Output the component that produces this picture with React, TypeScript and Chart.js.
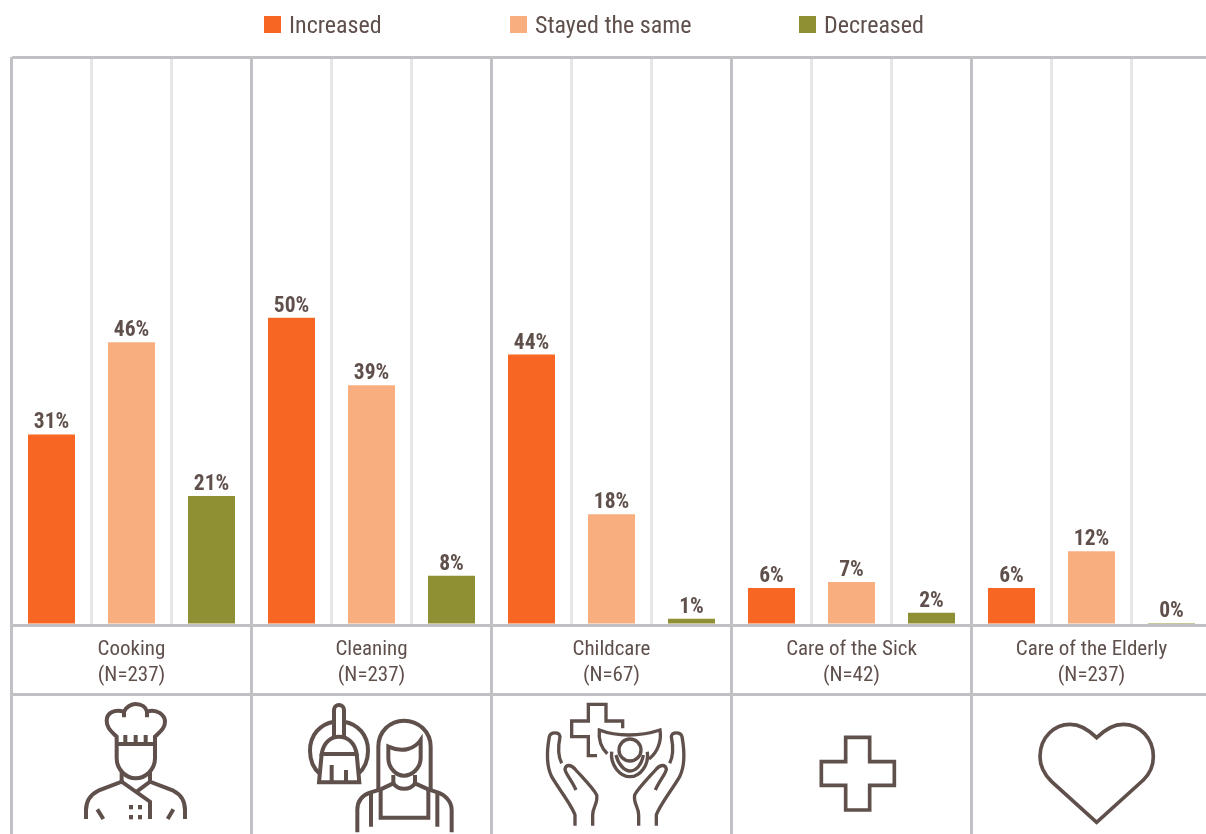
import React, { useEffect, useRef } from "react";
import { Chart, registerables } from "chart.js";

Chart.register(...registerables);

const groups = [
  ["Cooking", "(N=237)"],
  ["Cleaning", "(N=237)"],
  ["Childcare", "(N=67)"],
  ["Care of the Sick", "(N=42)"],
  ["Care of the Elderly", "(N=237)"],
];
const increased = [31, 50, 44, 6, 6];
const stayedSame = [46, 39, 18, 7, 12];
const decreased = [21, 8, 1, 2, 0];
const subCells = ["a1", "a2", "a3", "b1", "b2", "b3", "c1", "c2", "c3", "d1", "d2", "d3", "e1", "e2", "e3"];
const seriesNames = ["Increased", "Stayed the same", "Decreased"];
const seriesColors = ["#f76723", "#f9ae80", "#8f8f33"];
const legendX = [264, 510, 799];

const INK = "#5f504c";
const RULE = "#c1c1c5";
const FAMILY = "Roboto, 'Liberation Sans Narrow', sans-serif";

function line(ctx: CanvasRenderingContext2D, d: string, w = 12) {
  ctx.lineWidth = w;
  ctx.stroke(new Path2D(d));
}

function beginIcon(ctx: CanvasRenderingContext2D, x: number, y: number) {
  ctx.save();
  ctx.strokeStyle = INK;
  ctx.fillStyle = INK;
  ctx.lineJoin = "miter";
  ctx.lineCap = "butt";
  ctx.translate(x, y);
  ctx.scale(1 / 3, 1 / 3);
}

function drawIcons(ctx: CanvasRenderingContext2D) {
  beginIcon(ctx, 0, 600);
  // chef
  line(ctx, "M350 432 V410 C335 395 320 385 320 362 C320 340 342 326 372 335 C378 320 395 312 407 312 C425 312 438 322 441 335 C470 325 495 345 495 365 C495 385 480 395 465 410 V432");
  line(ctx, "M372 335 V352 M441 335 V352 M350 432 H465 M376 405 V432 M407 405 V432 M437 405 V432");
  line(ctx, "M350 432 V475 C350 510 380 535 407 535 C435 535 465 510 465 475 V432");
  line(ctx, "M365 515 V545 M450 515 V545");
  line(ctx, "M258 657 V630 C258 600 275 582 295 572 L365 545 L450 605 V657");
  line(ctx, "M410 575 L450 545 L520 572 C540 582 555 600 555 630 V657");
  line(ctx, "M292 628 L310 657 M520 628 L503 657");
  [[387, 615], [414, 615], [387, 645], [414, 645]].forEach(([x, y]) => ctx.fillRect(x, y, 12, 13));
  // cleaning
  line(ctx, "M1002 365 C960 372 930 405 930 452 C930 480 940 505 960 522");
  line(ctx, "M1032 365 C1074 372 1104 405 1104 452 C1104 480 1094 505 1074 522");
  line(ctx, "M1002 410 V330 A15 15 0 0 1 1032 330 V410");
  line(ctx, "M965 462 C970 430 990 410 1017 410 C1045 410 1065 430 1070 462 Z");
  line(ctx, "M965 462 L957 547 H1078 L1070 462 M995 495 V547 M1038 510 V547");
  line(ctx, "M1135 570 V440 C1135 395 1170 362 1212 362 C1255 362 1292 395 1292 440 V570");
  line(ctx, "M1165 440 V475 C1165 505 1190 527 1212 527 C1235 527 1262 505 1262 475 V420 C1245 445 1210 460 1165 440 Z");
  line(ctx, "M1180 525 V550 M1245 525 V550");
  line(ctx, "M1142 568 L1180 550 C1195 572 1230 572 1245 550 L1285 568");
  line(ctx, "M1072 697 V630 C1072 600 1090 585 1110 578 L1142 568 M1285 568 L1315 578 C1335 585 1355 605 1355 630 V697");
  line(ctx, "M1142 568 V653 H1285 V568 M1113 580 V680 M1312 580 V680");
  ctx.restore();

  beginIcon(ctx, 530, 695);
  // childcare
  line(ctx, "M278 100 V78 H228 V28 H175 V78 H125 V125 H175 V182 H201", 10);
  line(ctx, "M232 176 C215 160 205 135 208 105 C260 125 330 125 390 105 C395 135 385 170 357 192", 10);
  ctx.beginPath();
  ctx.arc(300, 165, 33, 0, Math.PI * 2);
  ctx.lineWidth = 10;
  ctx.stroke();
  line(ctx, "M245 170 C240 210 270 245 300 245 C330 245 358 210 352 170", 10);
  line(ctx, "M258 180 C265 210 285 228 300 228 C318 228 335 210 340 180", 10);
  const hand = "M135 392 V360 C125 330 85 280 65 245 C50 215 48 180 58 125 C62 110 88 110 90 125 C85 150 82 180 95 205 M138 285 C125 255 105 235 105 222 C108 208 122 208 135 222 C155 245 190 280 200 300 C205 325 188 335 188 360 V392";
  line(ctx, hand, 10);
  ctx.save();
  ctx.translate(514, 0);
  ctx.scale(-1, 1);
  line(ctx, hand, 10);
  ctx.restore();
  ctx.restore();

  beginIcon(ctx, 800, 695);
  // sick
  line(ctx, "M137 127 H209 V200 H283 V271 H209 V345 H137 V271 H64 V200 H137 Z", 11);
  // elderly
  line(ctx, "M890 382 L755 260 C725 230 720 205 720 185 C720 125 765 88 810 88 C845 88 870 108 890 128 C910 108 935 88 970 88 C1020 88 1060 130 1060 185 C1060 215 1050 235 1030 255 Z", 11);
  ctx.restore();
}

const decorPlugin = {
  id: "decor",
  afterDatasetsDraw(chart: any) {
    const { ctx } = chart;
    ctx.save();
    ctx.fillStyle = INK;
    ctx.textAlign = "center";
    ctx.textBaseline = "alphabetic";
    ctx.font = `condensed bold 21.5px ${FAMILY}`;
    chart.data.datasets.forEach((ds: any, i: number) => {
      chart.getDatasetMeta(i).data.forEach((bar: any, j: number) => {
        ctx.fillText(`${ds.data[j]}%`, bar.x, bar.y - 6);
      });
    });
    ctx.restore();
  },
  afterDraw(chart: any) {
    const { ctx, scales } = chart;
    ctx.save();
    ctx.strokeStyle = RULE;
    ctx.lineWidth = 3;
    ctx.beginPath();
    ctx.moveTo(scales.x.left, 694.5);
    ctx.lineTo(scales.x.right, 694.5);
    ctx.stroke();
    // legend
    ctx.font = `condensed 24px ${FAMILY}`;
    ctx.textBaseline = "middle";
    ctx.textAlign = "left";
    seriesNames.forEach((name, i) => {
      ctx.fillStyle = seriesColors[i];
      ctx.fillRect(legendX[i], 16, 17, 17);
      ctx.fillStyle = INK;
      ctx.fillText(name, legendX[i] + 25, 27);
    });
    ctx.restore();
    drawIcons(ctx);
  },
};

export default function App() {
  const ref = useRef<HTMLCanvasElement>(null);
  useEffect(() => {
    document.body.style.margin = "0";
    document.documentElement.style.overflow = "hidden";
    const chart = new Chart(ref.current!, {
      type: "bar",
      data: {
        labels: groups as any,
        datasets: [increased, stayedSame, decreased].map((data, i) => ({
          label: seriesNames[i],
          data,
          backgroundColor: seriesColors[i],
          categoryPercentage: 1,
          barPercentage: 0.5875,
          minBarLength: 2,
        })),
      },
      options: {
        responsive: false,
        animation: false,
        layout: { padding: { left: 11.5, right: 8.5, top: 57, bottom: 0 } },
        plugins: { legend: { display: false }, tooltip: { enabled: false } },
        scales: {
          x: {
            offset: true,
            grid: { offset: true, color: RULE, lineWidth: 3, tickLength: 210, tickColor: RULE, z: -1 },
            border: { display: false },
            ticks: {
              autoSkip: false,
              maxRotation: 0,
              padding: -199,
              color: INK,
              font: { family: FAMILY, size: 21, weight: "condensed" as any, lineHeight: 1.27 },
            },
            afterFit: (s: any) => { s.height = 209; },
          },
          x2: {
            type: "category",
            position: "bottom",
            labels: subCells,
            offset: true,
            grid: { offset: true, color: "#e6e6e6", lineWidth: 3, drawTicks: false, z: -2 },
            border: { display: false },
            ticks: { display: false },
            afterFit: (s: any) => { s.height = 0; },
          },
          y: {
            min: 0,
            max: 92.4,
            grid: { color: RULE, lineWidth: 3, drawTicks: false },
            border: { display: false },
            ticks: { display: false },
            afterBuildTicks: (s: any) => { s.ticks = [{ value: 0 }, { value: 92.4 }]; },
            afterFit: (s: any) => { s.width = 0; },
          },
        },
      },
      plugins: [decorPlugin],
    } as any);
    return () => chart.destroy();
  }, []);
  return (
    <div style={{ position: "absolute", left: 0, top: 0, width: 1206, height: 834, overflow: "hidden", background: "#fff" }}>
      <canvas ref={ref} width={1220} height={834} style={{ display: "block", width: 1220, height: 834 }} />
    </div>
  );
}
